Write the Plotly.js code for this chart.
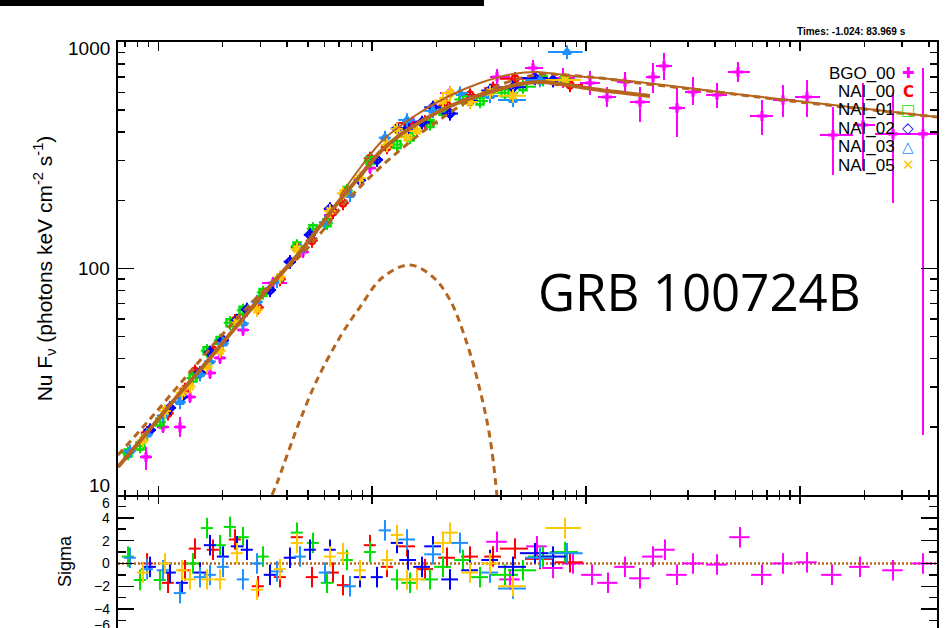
<!DOCTYPE html>
<html><head><meta charset="utf-8">
<script src="https://cdn.plot.ly/plotly-3.0.1.min.js"></script>
<style>html,body{margin:0;padding:0;background:#fff;overflow:hidden}</style>
</head><body><div id="chart" style="width:948px;height:628px"></div>
<script>
// ---------------- data ----------------
const detectorNames = ['BGO_00','NAI_00','NAI_01','NAI_02','NAI_03','NAI_05'];

// BGO_00 : energy (keV), nuFnu, bin edges and flux error bounds
const bgoE   = [8.76,10.52,12.63,14.07,17.45,19.43,24.89,34.38,47.48,63.49,97.65,155.1,231.1,383.3,564.8,779.8,1043,1252,1520,1787,2055,2313,2661,3161,4093,5131,6643,8329,10782,14267,19703,27217,37596];
const bgoF   = [14.72,19.96,19.96,27.08,34.56,40.27,53.51,86.30,118.3,172.3,277.8,443.5,595.4,700.7,767.8,693.6,659.2,571.7,665.9,543.4,700.7,783.5,511.2,601.5,583.5,737.3,471.4,554.6,571.7,388.5,430.1,392.6,392.6];
const bgoElo = [8.21,9.86,11.84,13.19,16.36,18.21,23.33,30.53,44.51,59.52,91.54,142.3,207.5,355.4,518.0,692.9,936.5,1137,1395,1605,1906,2123,2441,2900,3635,4606,5838,7475,9476,12403,17694,22421,32679];
const bgoEhi = [9.34,11.22,13.48,15.00,18.62,20.72,26.55,39.97,50.65,67.73,104.2,169.1,277.5,441.0,628.9,887.4,1161,1380,1657,1990,2216,2521,2900,3444,4557,5838,7475,9476,12403,17694,22421,32679,43710];
const bgoFlo = [12.89,18.78,18.04,25.48,32.51,37.88,50.35,81.19,111.3,162.0,261.4,417.2,554.6,645.9,707.9,626.5,583.5,516.4,601.5,443.5,595.4,679.6,380.7,527.1,511.2,665.9,388.5,466.6,466.6,258.8,272.2,194.6,18.4];
const bgoFhi = [16.30,21.21,22.10,28.79,36.74,42.81,56.89,91.73,125.7,183.1,295.3,471.4,639.3,760.0,832.9,767.8,744.7,632.9,737.3,632.9,807.9,894.3,626.5,700.7,659.2,815.8,554.6,645.9,679.6,516.4,659.2,595.4,767.8];
const bgoResE = [383.3,441.0,589.5,700.6,868.5,1066,1266,1520,1787,2055,2339,2661,3161,4093,5243,6643,8329,10782,14114,19078,27217,37596];
const bgoResS = [1.9,-1.4,1.5,-0.4,0.0,-1.0,-1.7,-0.3,-1.3,0.6,1.2,-1.0,0.0,-0.1,2.3,-1.0,0.0,0.1,-1.0,-0.3,-0.6,0.0];

// NaI detectors: energy, half bin width, nuFnu, residual sigma
const nai00E  = [8.86,11.10,13.33,14.84,18.02,22.84,29.25,37.07,44.51,52.30,65.57,73.02,97.65,117.3,145.5,176.6,223.7,286.6,367.1,465.3,608.9,840.8];
const nai00dE = [0.58,0.72,0.87,0.96,1.17,1.48,1.9,2.4,2.9,3.4,4.3,4.7,6.3,7.6,13.1,15.9,20.1,25.8,33.0,70,91,126];
const nai00F  = [18.86,22.94,29.27,35.20,43.59,58.85,67.33,89.71,123.9,132.8,177.8,194.5,306.3,343.6,439.2,444.6,525.2,583.5,626.0,688.3,679.6,645.9];
const nai00S  = [0,-1.7,-0.6,1.3,1.2,2.1,-2.0,-1.2,2.3,-1.2,-0.8,-1.9,1.6,-0.3,1.5,-0.5,0.5,0.6,0.6,1.3,0.4,0.1];

const nai01E  = [7.22,8.21,10.18,14.53,16.90,19.43,21.64,24.89,30.86,44.51,52.88,61.48,76.23,97.65,130.6,150.2,186.3,214.3,265.7,319.1,417.8,507.0,628.9,796.8];
const nai01dE = [0.47,0.53,0.66,0.94,1.1,1.26,1.41,1.62,2.0,2.9,3.4,4.0,5.0,6.3,8.5,13.5,16.8,19.3,23.9,28.7,62.7,76,94,120];
const nai01F  = [15.31,16.44,20.98,32.83,43.35,48.15,57.58,65.34,78.40,125.7,149.7,159.1,220.9,299.9,352.6,380.7,436.8,495.1,557.7,548.9,596.9,634.9,684.6,681.5];
const nai01S  = [0.6,-1.45,-1.45,0,3.1,1.6,3.2,2.3,0.6,2.7,1.8,-1.7,0.3,1.0,-1.4,-1.7,-1.4,-0.3,0.3,-1.2,-1.0,-0.6,0.6,1.0];

const nai02E  = [9.15,11.34,12.91,15.67,17.45,20.07,23.33,25.98,33.29,41.28,51.20,63.49,87.69,105.3,130.6,147.0,171.0,192.4,231.1,286.6,355.4,455.4,577.0,700.6];
const nai02dE = [0.6,0.74,0.84,1.02,1.13,1.3,1.52,1.69,2.16,2.7,3.3,4.1,5.7,6.8,8.5,13.2,15.4,17.3,20.8,25.8,32,68,87,105];
const nai02F  = [19.36,24.27,27.18,34.63,42.62,48.19,59.03,65.98,80.37,107.1,140.8,183.5,245.4,302.0,414.8,415.9,441.7,514.6,483.4,548.9,610.8,631.3,693.6,677.7];
const nai02S  = [-0.3,-0.8,-1.7,-0.8,1.6,0.6,1.5,1.2,-1.0,0.5,1.2,1.2,-1.2,-1.2,1.8,0.3,-0.3,1.5,-1.4,-0.6,0.3,-0.3,0.9,0.6];

const nai03E  = [7.37,8.86,10.52,12.63,15.67,17.45,20.07,24.89,28.93,35.89,45.97,60.17,78.74,114.8,145.5,192.4,257.3,355.4,455.4,608.9,814.1];
const nai03dE = [0.48,0.58,0.68,0.82,1.02,1.13,1.3,1.62,1.88,2.33,3.0,3.9,5.1,7.5,13.1,17.3,23.2,32,68,91,150];
const nai03F  = [15.64,18.52,22.44,25.72,34.14,38.86,46.68,57.29,71.44,88.18,120.8,160.0,211.1,378.4,452.8,496.6,595.4,577.6,554.6,679.6,903.3];
const nai03S  = [0.5,-0.5,-0.6,-2.6,-1.2,-1.0,-0.3,-1.4,0,-0.7,0.6,-0.8,-2.0,2.9,2.1,0.8,1.8,-0.8,-2.2,0.5,0.9];

const nai05E  = [8.48,10.75,12.91,14.07,16.90,19.43,23.33,28.93,37.07,44.51,63.49,73.02,87.69,117.3,130.6,145.5,162.0,214.3,231.1,286.6,355.4,455.4,796.8];
const nai05dE = [0.55,0.7,0.84,0.91,1.1,1.26,1.52,1.88,2.4,2.9,4.1,4.7,5.7,7.6,8.5,13.1,14.6,19.3,20.8,25.8,32,68,150];
const nai05F  = [17.46,23.49,28.27,30.17,36.93,43.28,57.78,65.80,91.96,121.7,179.6,214.9,250.7,351.0,413.8,379.0,404.9,551.0,595.4,543.4,601.5,579.0,679.6];
const nai05S  = [-0.8,0,-0.6,-1.4,-1.4,-1.4,0.9,-2.3,-0.5,1.8,0.6,0.9,-0.6,0.3,2.5,-1.4,-1.4,1.8,2.7,-0.8,0,-2.0,3.1];

// model curves
const totalE = [6.48,8.21,10.18,12.63,15.67,19.43,24.09,29.88,37.07,45.97,57.02,70.69,87.69,108.8,134.9,167.3,207.5,257.3,319.1,395.9,491.0,608.9,755.1,936.5,1161,1520,1990];
const totalF = [13.29,17.32,22.10,28.21,35.64,45.49,58.04,74.10,93.61,118.3,154.0,200.6,256.1,326.8,388.5,443.5,496.0,543.4,583.5,620.1,652.5,665.9,652.5,632.9,613.9,595.4,577.6];
const upperE = [70.69,87.69,112.3,155.1,223.7,319.1,455.4,589.5,779.8,1161,1605,2748,6031,14267,43710];
const upperF = [209.0,277.8,369.3,466.6,571.7,659.2,722.4,737.3,715.1,693.6,672.7,632.9,577.6,527.1,466.6];
const bandE  = [6.48,9.15,14.07,21.64,33.29,45.97,57.02,73.02,92.53,114.8,142.3,176.6,218.9,271.5,336.8,417.8,518.0,642.4,796.8,1161,1605,3408,10000,43710];
const bandF  = [15.02,21.65,34.91,55.75,85.43,113.6,142.0,190.7,240.9,292.3,347.4,408.8,471.4,537.9,601.5,659.2,700.7,722.4,715.1,693.6,665.9,613.9,543.4,466.6];
const bbE    = [34.0,35.9,41.3,46.0,55.2,70.7,87.7,112.3,150.2,192.4,231.1,277.0,319.0,355.0,383.0];
const bbF    = [10.0,11.3,16.3,21.4,32.2,49.8,67.6,91.7,103.6,91.7,72.6,46.9,29.1,18.0,10.0];

// axis ticks
const yTickVals = [10,100,1000];
const yTickText = ['10','100','1000'];
const sigmaTickVals = [-6,-4,-2,0,2,4,6];
const sigmaTickText = ['\u22126','\u22124','\u22122','0','2','4','6'];
const xRange = [6.48, 43710];
const sigmaRange = [-5.66, 6];
const titleText = 'GRB 100724B';
const timeText = 'Times: -1.024: 83.969 s';

// ---------------- styling ----------------
const colors = ['#ff00ff','#ff0000','#00e000','#0000ff','#1e90ff','#ffc800'];
const symbols = ['cross','circle-open','square-open','diamond-open','triangle-up-open','x-thin-open'];
const legendGlyphs = ['\u271a','C','\u25a1','\u25c7','\u25b3','\u2715'];
const brown = '#b5651d';
const splitY = 0.22696;

const naiSets = [
  {E:nai00E, dE:nai00dE, F:nai00F, S:nai00S},
  {E:nai01E, dE:nai01dE, F:nai01F, S:nai01S},
  {E:nai02E, dE:nai02dE, F:nai02F, S:nai02S},
  {E:nai03E, dE:nai03dE, F:nai03F, S:nai03S},
  {E:nai05E, dE:nai05dE, F:nai05F, S:nai05S}
];

const traces = [];
// BGO top
traces.push({
  x:bgoE, y:bgoF, xaxis:'x', yaxis:'y', mode:'markers', type:'scatter', name:detectorNames[0],
  marker:{symbol:symbols[0], size:8, color:colors[0]},
  error_x:{type:'data', symmetric:false, array:bgoEhi.map((v,i)=>v-bgoE[i]), arrayminus:bgoE.map((v,i)=>v-bgoElo[i]), color:colors[0], thickness:2, width:0},
  error_y:{type:'data', symmetric:false, array:bgoFhi.map((v,i)=>v-bgoF[i]), arrayminus:bgoF.map((v,i)=>v-bgoFlo[i]), color:colors[0], thickness:2, width:0}
});
naiSets.forEach((d,k)=>{
  const c = colors[k+1];
  traces.push({
    x:d.E, y:d.F, xaxis:'x', yaxis:'y', mode:'markers', type:'scatter', name:detectorNames[k+1],
    marker:{symbol:symbols[k+1], size:7, color:c, line:{color:c, width:2.5}},
    error_x:{type:'data', array:d.dE, color:c, thickness:2, width:0},
    error_y:{type:'percent', value:7, color:c, thickness:2, width:0}
  });
});
// models
traces.push({x:totalE, y:totalF, xaxis:'x', yaxis:'y', mode:'lines', line:{color:brown, width:4, shape:'spline'}});
traces.push({x:upperE, y:upperF, xaxis:'x', yaxis:'y', mode:'lines', line:{color:brown, width:2, shape:'spline'}});
traces.push({x:bandE, y:bandF, xaxis:'x', yaxis:'y', mode:'lines', line:{color:brown, width:3, dash:'7px,5px', shape:'spline'}});
traces.push({x:bbE, y:bbF, xaxis:'x', yaxis:'y', mode:'lines', line:{color:brown, width:3, dash:'7px,5px', shape:'spline'}});

// residuals
traces.push({
  x:bgoResE, y:bgoResS, xaxis:'x2', yaxis:'y2', mode:'markers', type:'scatter',
  marker:{size:1, color:colors[0]},
  error_x:{type:'percent', value:11, color:colors[0], thickness:2, width:0},
  error_y:{type:'constant', value:0.9, color:colors[0], thickness:2, width:0}
});
naiSets.forEach((d,k)=>{
  const c = colors[k+1];
  traces.push({
    x:d.E, y:d.S, xaxis:'x2', yaxis:'y2', mode:'markers', type:'scatter',
    marker:{size:1, color:c},
    error_x:{type:'data', array:d.dE, color:c, thickness:2, width:0},
    error_y:{type:'constant', value:0.9, color:c, thickness:2, width:0}
  });
});

// ---------------- layout ----------------
const annotations = [];
const baseFont = 'Liberation Sans, Arial, Helvetica, sans-serif';
const yLabelShift = [10, 0, -6];
yTickVals.forEach((v,i)=>{
  annotations.push({xref:'paper', x:0, xanchor:'right', xshift:-6, yref:'y', y:Math.log10(v), yanchor:'middle', yshift:yLabelShift[i],
    text:yTickText[i], showarrow:false, font:{family:baseFont, size:19, color:'#000'}});
});
sigmaTickVals.forEach((v,i)=>{
  const inRange = v >= sigmaRange[0] && v <= sigmaRange[1];
  const shift = v === 6 ? -8 : (v === -6 ? 7 : 0);
  const a = {xref:'paper', x:0, xanchor:'right', xshift:-6, yanchor:'middle', yshift:shift,
    text:sigmaTickText[i], showarrow:false, font:{family:baseFont, size:14, color:'#000'}};
  if (inRange) { a.yref = 'y2'; a.y = v; }
  else { a.yref = 'paper'; a.y = splitY * (v - sigmaRange[0]) / (sigmaRange[1] - sigmaRange[0]); }
  annotations.push(a);
});
// legend
const legendRowsPx = [73.3, 91.7, 110, 128.3, 146.7, 165];
const toPY = py => (628 - py) / 586;
const toPX = px => (px - 118) / 819;
detectorNames.forEach((n,i)=>{
  annotations.push({xref:'paper', yref:'paper', x:toPX(897), y:toPY(legendRowsPx[i]), xanchor:'right', yanchor:'middle',
    text:n, showarrow:false, font:{family:baseFont, size:17, color:'#000'}});
  annotations.push({xref:'paper', yref:'paper', x:toPX(908), y:toPY(legendRowsPx[i]), xanchor:'center', yanchor:'middle',
    text:'<b>'+legendGlyphs[i]+'</b>', showarrow:false, font:{family:'DejaVu Sans, sans-serif', size:15, color:colors[i]}});
});
annotations.push({xref:'paper', yref:'paper', x:toPX(536), y:toPY(291), xanchor:'left', yanchor:'middle',
  text:titleText, showarrow:false, font:{family:'Open Sans, sans-serif', size:51, color:'#000'}});
annotations.push({xref:'paper', yref:'paper', x:toPX(908), y:toPY(32), xanchor:'right', yanchor:'middle',
  text:'<b>'+timeText+'</b>', showarrow:false, font:{family:baseFont, size:10, color:'#000'}});

const axisCommon = {showgrid:false, zeroline:false, showline:true, linecolor:'#000', linewidth:2, mirror:'ticks',
  ticks:'inside', tickcolor:'#000', tickwidth:1.5};

const layout = {
  width:948, height:628,
  margin:{l:118, r:11, t:42, b:0, pad:0},
  paper_bgcolor:'#fff', plot_bgcolor:'#fff',
  showlegend:false,
  font:{family:baseFont, color:'#000'},
  xaxis: Object.assign({}, axisCommon, {type:'log', range:xRange.map(Math.log10), domain:[0,1], anchor:'y',
    tickmode:'linear', tick0:0, dtick:1, ticklen:9, showticklabels:false,
    minor:{ticks:'inside', ticklen:5, tickwidth:1.5, tickcolor:'#000', dtick:'D1', showgrid:false}}),
  yaxis: Object.assign({}, axisCommon, {type:'log', range:[1,3], domain:[splitY,1], anchor:'x',
    tickmode:'array', tickvals:yTickVals, ticklen:16, showticklabels:false,
    minor:{ticks:'inside', ticklen:7, tickwidth:1.5, tickcolor:'#000', dtick:'D1', showgrid:false},
    title:{text:'Nu F<sub>\u03bd</sub> (photons keV cm<sup>-2</sup> s<sup>-1</sup>)', font:{family:baseFont, size:21, color:'#000'}, standoff:58}}),
  xaxis2: {type:'log', range:xRange.map(Math.log10), domain:[0,1], anchor:'y2', side:'top', showline:false, showgrid:false, zeroline:false,
    ticks:'inside', tickcolor:'#000', tickwidth:1.5, ticklen:9, tickmode:'linear', tick0:0, dtick:1, showticklabels:false,
    minor:{ticks:'inside', ticklen:5, tickwidth:1.5, tickcolor:'#000', dtick:'D1', showgrid:false}},
  yaxis2: Object.assign({}, axisCommon, {range:sigmaRange, domain:[0,splitY], anchor:'x2',
    tickmode:'array', tickvals:sigmaTickVals, ticklen:16, showticklabels:false,
    minor:{ticks:'inside', ticklen:8, tickwidth:1.5, tickcolor:'#000', tickmode:'linear', tick0:0, dtick:1, showgrid:false},
    title:{text:'Sigma', font:{family:baseFont, size:18, color:'#000'}, standoff:40}}),
  shapes:[
    {type:'line', xref:'paper', x0:0, x1:1, yref:'y2', y0:0, y1:0, line:{color:brown, width:2.5, dash:'2px,2px'}, layer:'below'},
    {type:'rect', xref:'paper', yref:'paper', x0:toPX(0), x1:toPX(484), y0:toPY(6), y1:toPY(-4), fillcolor:'#000', line:{width:0}, layer:'above'}
  ],
  annotations: annotations
};

Plotly.newPlot('chart', traces, layout, {staticPlot:true, displayModeBar:false});
</script></body></html>
